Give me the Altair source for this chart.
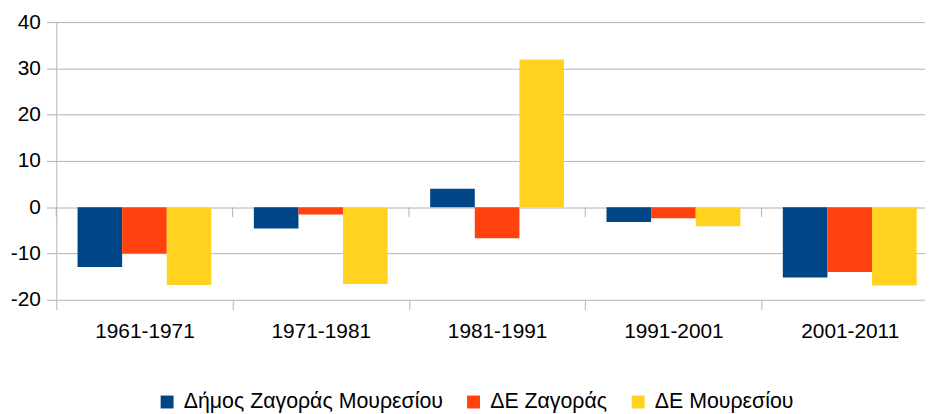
import altair as alt
import pandas as pd

periods = ["1961-1971", "1971-1981", "1981-1991", "1991-2001", "2001-2011"]
series = ["Δήμος Ζαγοράς Μουρεσίου", "ΔΕ Ζαγοράς", "ΔΕ Μουρεσίου"]
dimos = [-12.9, -4.6, 4.0, -3.2, -15.2]
de_zagoras = [-10.0, -1.6, -6.7, -2.4, -14.0]
de_mouresiou = [-16.8, -16.6, 31.9, -4.1, -16.9]
colors = ["#004586", "#ff420e", "#ffd320"]

rows = []
for name, vals in zip(series, [dimos, de_zagoras, de_mouresiou]):
    for p, v in zip(periods, vals):
        rows.append({"period": p, "series": name, "value": v})
df = pd.DataFrame(rows)
ticks_df = pd.DataFrame({"period": periods})

GRAY = "#b3b3b3"

x_enc = alt.X(
    "period:N",
    sort=periods,
    title=None,
    scale=alt.Scale(range=[0, 889], paddingInner=0, paddingOuter=0),
    axis=alt.Axis(
        domain=False, ticks=True, tickBand="extent", tickSize=10, tickColor=GRAY,
        labelFontSize=21, labelColor="#000000", labelPadding=11, labelAngle=0,
        grid=False,
    ),
)

bars = alt.Chart(df).mark_bar().encode(
    x=x_enc,
    xOffset=alt.XOffset("series:N", sort=series,
                        scale=alt.Scale(paddingInner=0, paddingOuter=0.476)),
    y=alt.Y("value:Q", title=None,
            scale=alt.Scale(domain=[-20, 40], nice=False),
            axis=alt.Axis(values=[-20, -10, 0, 10, 20, 30, 40], tickSize=10,
                          tickColor=GRAY, domainColor=GRAY, gridColor=GRAY,
                          labelExpr="'' + datum.value",
                          labelFontSize=21, labelColor="#000000", labelPadding=6)),
    color=alt.Color("series:N", sort=series,
                    scale=alt.Scale(domain=series, range=colors),
                    legend=alt.Legend(title=None, orient="none", direction="horizontal",
                                      legendX=101, legendY=372,
                                      symbolType="square", symbolSize=170,
                                      symbolStrokeWidth=0, labelFontSize=21.5,
                                      labelColor="#000000", labelOffset=6,
                                      labelLimit=500, columnPadding=20)),
)

zero_ticks = alt.Chart(ticks_df).mark_rule(color=GRAY, strokeWidth=1).encode(
    x=alt.X("period:N", sort=periods, bandPosition=0),
    y=alt.datum(0),
    y2=alt.datum(-2.15),
)

chart = alt.layer(bars, zero_ticks).properties(
    width=876,
    height=280,
    autosize=alt.AutoSizeParams(type="none"),
    padding={"left": 48.7, "top": 12.5, "right": 0, "bottom": 113.5},
).configure(font="Liberation Sans").configure_view(stroke=None)

chart.save("out.html", embed_options={"renderer": "svg", "actions": False})
